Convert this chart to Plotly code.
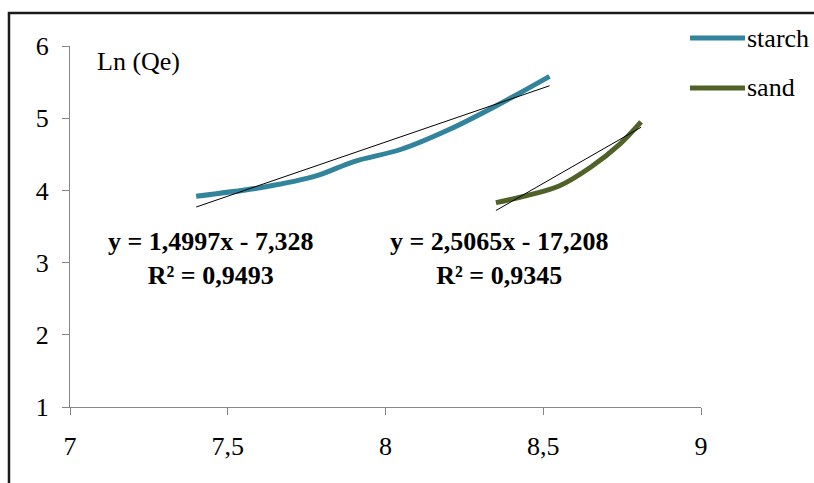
import numpy as np
import plotly.graph_objects as go

# Freundlich isotherm, linearised: Ln(Qe) vs Ln(Ce)
starch_ln_ce = [7.40, 7.62, 7.78, 7.90, 8.05, 8.20, 8.35, 8.52]
starch_ln_qe = [3.92, 4.05, 4.20, 4.40, 4.57, 4.84, 5.17, 5.58]

sand_ln_ce = [8.35, 8.45, 8.55, 8.65, 8.74, 8.81]
sand_ln_qe = [3.83, 3.93, 4.06, 4.32, 4.63, 4.95]

# Linear trend lines (slope, intercept, R²)
starch_fit = (1.4997, -7.328, 0.9493)
sand_fit = (2.5065, -17.208, 0.9345)

x_ticks = [7, 7.5, 8, 8.5, 9]
x_tick_text = ["7", "7,5", "8", "8,5", "9"]
y_ticks = [1, 2, 3, 4, 5, 6]

STARCH = "#31849B"
SAND = "#4F6228"
FONT = "Liberation Serif"
FS = 26

fig = go.Figure()

for xs, ys, color, name in [(starch_ln_ce, starch_ln_qe, STARCH, "starch"),
                            (sand_ln_ce, sand_ln_qe, SAND, "sand")]:
    fig.add_trace(go.Scatter(x=xs, y=ys, mode="lines", name=name,
                             line=dict(color=color, width=5, shape="spline", smoothing=1.0),
                             showlegend=False))

for xs, (m, b, _) in [(starch_ln_ce, starch_fit), (sand_ln_ce, sand_fit)]:
    xe = np.array([min(xs), max(xs)])
    fig.add_trace(go.Scatter(x=xe, y=m * xe + b, mode="lines",
                             line=dict(color="#000000", width=1), showlegend=False))


def fmt(v, nd):
    return f"{v:.{nd}f}".replace(".", ",")


eq_font = dict(family=FONT, size=FS, color="#000000")
for (m, b, r2), cx in [(starch_fit, 7.445), (sand_fit, 8.36)]:
    nd = len(str(abs(b)).split(".")[1])
    txt = (f"<b>y = {fmt(m, 4)}x - {fmt(abs(b), nd)}</b><br>"
           f"<b>R² = {fmt(r2, 4)}</b>")
    fig.add_annotation(x=cx, y=3.058, xref="x", yref="y", text=txt, showarrow=False,
                       font=eq_font, align="center", xanchor="center", yanchor="middle")

lab_font = dict(family=FONT, size=FS, color="#000000")
fig.add_annotation(x=7.079, y=5.78, text="Ln (Qe)", showarrow=False, font=lab_font,
                   xanchor="left", yanchor="middle")
fig.add_annotation(x=9.01, y=1.37, text="Ln (Ce)", showarrow=False, font=lab_font,
                   xanchor="right", yanchor="middle")

# Legend drawn beside the plot
for yp, color, name in [(1.022, STARCH, "starch"), (0.8837, SAND, "sand")]:
    fig.add_shape(type="line", xref="paper", yref="paper", x0=0.9826, x1=1.0697,
                  y0=yp, y1=yp, line=dict(color=color, width=5))
    fig.add_annotation(x=1.069, y=yp, xref="paper", yref="paper", text=name,
                       showarrow=False, font=lab_font, xanchor="left", yanchor="middle")

# Outer frame
fig.add_shape(type="rect", xref="paper", yref="paper", x0=-0.0967, x1=1.4,
              y0=-0.4, y1=1.0914, line=dict(color="#1a1a1a", width=2.5))

axis_common = dict(showgrid=False, zeroline=False, showline=True, linecolor="#868686",
                   linewidth=1.2, ticks="outside", tickcolor="#868686", ticklen=7,
                   tickfont=dict(family=FONT, size=FS, color="#000000"))

fig.update_xaxes(range=[7, 9], tickvals=x_ticks, ticktext=x_tick_text,
                 ticklabelstandoff=9, **axis_common)
fig.update_yaxes(range=[1, 6], tickvals=y_ticks, ticklabelstandoff=8, **axis_common)

fig.update_layout(width=814, height=483, margin=dict(l=70, r=113, t=46, b=76),
                  paper_bgcolor="white", plot_bgcolor="white")

fig.write_html("out.html")
